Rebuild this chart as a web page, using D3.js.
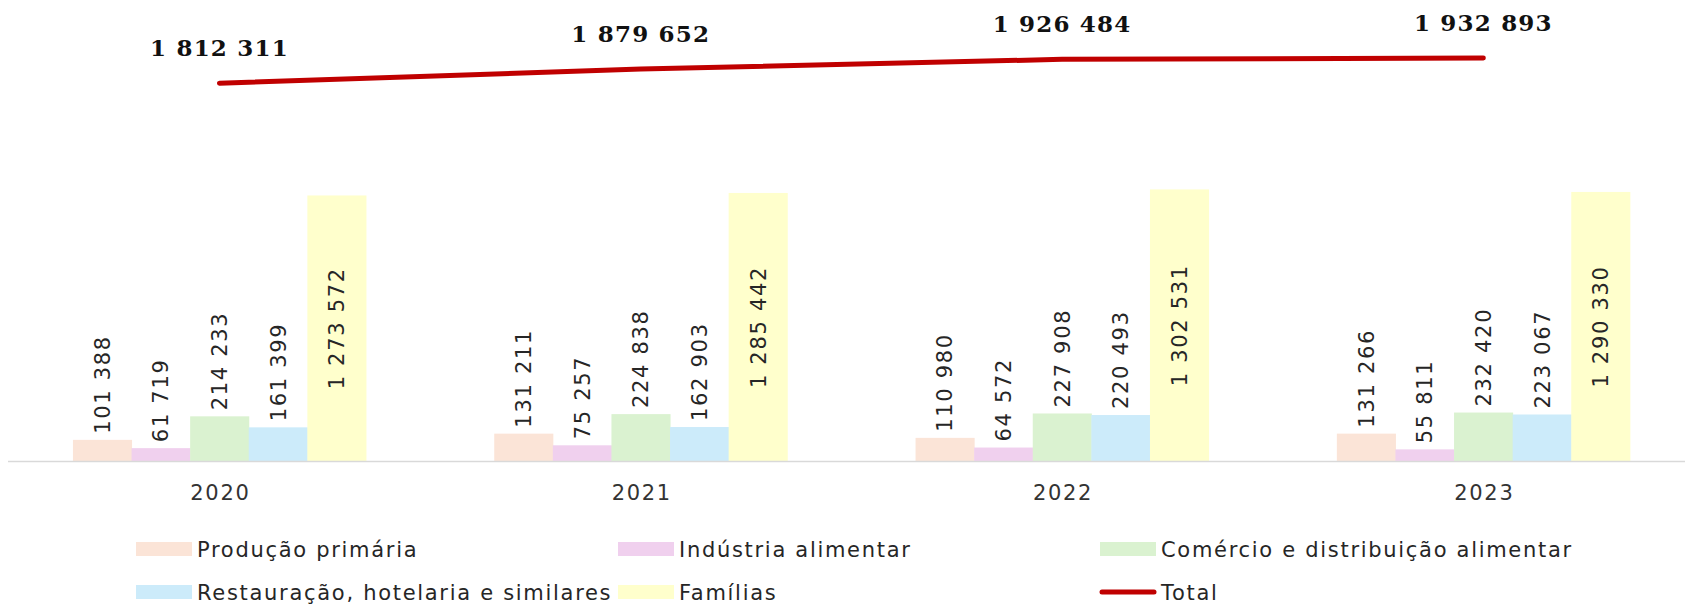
<!DOCTYPE html>
<html>
<head>
<meta charset="utf-8">
<script src="https://cdn.jsdelivr.net/npm/d3@7"></script>
<style>
  html, body { margin: 0; padding: 0; background: #fff; overflow: hidden; }
  svg { display: block; }
</style>
</head>
<body>
<div id="chart"></div>
<script>
// Chart data
const years = ["2020", "2021", "2022", "2023"];
const seriesNames = ["Produção primária", "Indústria alimentar", "Comércio e distribuição alimentar",
    "Restauração, hotelaria e similares", "Famílias"];
const producao = [101388, 131211, 110980, 131266];
const industria = [61719, 75257, 64572, 55811];
const comercio = [214233, 224838, 227908, 232420];
const restauracao = [161399, 162903, 220493, 223067];
const familias = [1273572, 1285442, 1302531, 1290330];
const total = [1812311, 1879652, 1926484, 1932893];

const barColors = ["#FBE4D7", "#F0D0EE", "#DAF2D0", "#CCEBFA", "#FFFFCC"];
const lineColor = "#C00000";

const width = 1685, height = 606;
const baseY = 461;

// group the bar series together
const barSeries = [producao, industria, comercio, restauracao, familias];

// Number format with spaces as thousands separator
function fmt(v) {
    return d3.format(",d")(v).replace(/,/g, " ");
}

const svg = d3.select("#chart").append("svg")
    .attr("width", width)
    .attr("height", height)
    .style("font-family", "'DejaVu Sans', Verdana, sans-serif");

// Scales
const x = d3.scaleBand()
    .domain(years)
    .range([8.8, 1694])
    .padding(0);

const groupWidth = x.bandwidth() * 0.6955;
const xInner = d3.scaleBand()
    .domain(d3.range(barSeries.length))
    .range([-groupWidth / 2, groupWidth / 2])
    .padding(0);

const y = d3.scaleLinear()
    .domain([0, 2000000])
    .range([baseY, 44]);

// Bars
const groups = svg.append("g")
    .selectAll("g")
    .data(years)
    .enter().append("g")
    .attr("transform", d => `translate(${x(d) + x.bandwidth() / 2},0)`);

groups.selectAll("rect")
    .data((d, i) => barSeries.map((s, k) => ({ k: k, v: s[i] })))
    .enter().append("rect")
    .attr("x", d => xInner(d.k))
    .attr("width", xInner.bandwidth() + 0.5)
    .attr("y", d => y(d.v))
    .attr("height", d => baseY - y(d.v))
    .attr("fill", d => barColors[d.k]);

// Bar labels (rotated); the last series is labelled in the middle of the bar
groups.selectAll("text")
    .data((d, i) => barSeries.map((s, k) => ({ k: k, v: s[i] })))
    .enter().append("text")
    .attr("transform", d => {
        const cx = xInner(d.k) + xInner.bandwidth() / 2;
        const cy = d.k === barSeries.length - 1 ? (y(d.v) + baseY) / 2 : y(d.v) - 6;
        return `translate(${cx},${cy}) rotate(-90)`;
    })
    .attr("text-anchor", d => d.k === barSeries.length - 1 ? "middle" : "start")
    .attr("dy", "0.36em")
    .style("font-size", "21px")
    .style("letter-spacing", "1.7px")
    .attr("fill", "#262626")
    .text(d => fmt(d.v));

// Category axis line
svg.append("line")
    .attr("x1", 8).attr("x2", width)
    .attr("y1", baseY + 0.5).attr("y2", baseY + 0.5)
    .attr("stroke", "#D9D9D9")
    .attr("stroke-width", 1.5);

// Category labels
svg.append("g")
    .selectAll("text")
    .data(years)
    .enter().append("text")
    .attr("x", d => x(d) + x.bandwidth() / 2 + 1)
    .attr("y", 500)
    .attr("text-anchor", "middle")
    .style("font-size", "21px")
    .style("letter-spacing", "1.7px")
    .attr("fill", "#333")
    .text(d => d);

// Total line
const line = d3.line()
    .x((d, i) => x(years[i]) + x.bandwidth() / 2)
    .y(d => y(d));

svg.append("path")
    .datum(total)
    .attr("d", line)
    .attr("fill", "none")
    .attr("stroke", lineColor)
    .attr("stroke-width", 5)
    .attr("stroke-linecap", "round");

svg.append("g")
    .selectAll("text")
    .data(total)
    .enter().append("text")
    .attr("x", (d, i) => x(years[i]) + x.bandwidth() / 2)
    .attr("y", d => y(d) - 27)
    .attr("text-anchor", "middle")
    .style("font-family", "'DejaVu Serif', serif")
    .style("font-weight", "bold")
    .style("font-size", "23px")
    .style("letter-spacing", "1.2px")
    .attr("fill", "#111")
    .text(d => fmt(d));

// Legend
const legendItems = seriesNames.map((n, k) => ({ name: n, color: barColors[k], type: "rect" }))
    .concat([{ name: "Total", color: lineColor, type: "line" }]);

const legend = svg.append("g")
    .selectAll("g")
    .data(legendItems)
    .enter().append("g")
    .attr("transform", (d, i) => `translate(${136 + (i % 3) * 482},${549 + Math.floor(i / 3) * 43})`);

legend.filter(d => d.type === "rect").append("rect")
    .attr("x", 0).attr("y", -7)
    .attr("width", 56).attr("height", 14)
    .attr("fill", d => d.color);

legend.filter(d => d.type === "line").append("line")
    .attr("x1", 2).attr("x2", 54)
    .attr("y1", 0).attr("y2", 0)
    .attr("stroke", d => d.color)
    .attr("stroke-width", 5)
    .attr("stroke-linecap", "round");

legend.append("text")
    .attr("x", 61)
    .attr("dy", "0.36em")
    .style("font-size", "21px")
    .style("letter-spacing", "1.7px")
    .attr("fill", "#262626")
    .text(d => d.name);
</script>
</body>
</html>
